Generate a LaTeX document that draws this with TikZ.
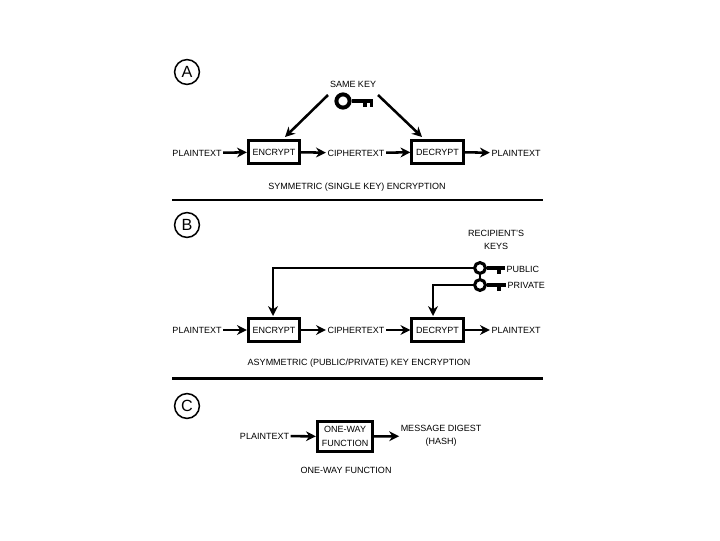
\documentclass[tikz,border=0pt]{standalone}
\usepackage{fontspec}
\setmainfont{Liberation Sans}
\usetikzlibrary{arrows.meta}
\begin{document}
\begin{tikzpicture}[
  x=0.025cm, y=-0.025cm,
  lbl/.style={inner sep=1pt, align=center, font=\fontsize{6.4}{9.6}\selectfont},
  box/.style={draw, line width=1.9pt, minimum width=1.29cm, minimum height=0.59cm, inner sep=0pt, align=center, font=\fontsize{6.4}{9.6}\selectfont},
  tag/.style={draw, circle, line width=1.1pt, minimum size=0.62cm, inner sep=0pt, font=\fontsize{11.5}{12}\selectfont},
  ring/.style={draw, circle, line width=2.2pt, inner sep=0pt},
  arr/.style={-{Stealth[length=7pt,width=7pt]}, line width=1.8pt},
  keyline/.style={line width=2.3pt}
]
\useasboundingbox (0,0) rectangle (720,540);
% part A
\node[tag] (tagA) at (187,72) {A};
\node[lbl] (same) at (353,84) {SAME KEY};
\node[ring, minimum size=0.33cm, line width=2.8pt] (ringA) at (343,101) {};
\coordinate (tipA) at (373,101);
\draw[keyline, line width=2.8pt] (ringA) -- (tipA);
\draw[line width=2.2pt] (365,101) -- (365,107) (371.5,101) -- (371.5,107);
\coordinate (leftA) at (328,95);
\coordinate (rightA) at (378,95);
\coordinate (inEncA) at (285,137);
\coordinate (inDecA) at (422,137);
\node[lbl] (plainA) at (197,153) {PLAINTEXT};
\node[box] (encA) at (274,152) {ENCRYPT};
\node[lbl] (ciphA) at (356,153) {CIPHERTEXT};
\node[box] (decA) at (437.5,152) {DECRYPT};
\node[lbl] (outA) at (516,153) {PLAINTEXT};
\node[lbl] (capA) at (357,187) {SYMMETRIC (SINGLE KEY) ENCRYPTION};
\coordinate (lineA1) at (172,200);
\coordinate (lineA2) at (543,200);
\draw[line width=1.5pt] (lineA1) -- (lineA2);
\draw[arr] (leftA) -- (inEncA);
\draw[arr] (rightA) -- (inDecA);
\draw[arr] (plainA) -- (encA);
\draw[arr] (encA) -- (ciphA);
\draw[arr] (ciphA) -- (decA);
\draw[arr] (decA) -- (outA);
% part B
\node[tag] (tagB) at (187,225) {B};
\node[lbl] (recip) at (496,240) {RECIPIENT'S\\KEYS};
\node[ring, minimum size=0.27cm] (ringPub) at (480,268) {};
\node[ring, minimum size=0.27cm] (ringPri) at (480,285) {};
\node[lbl, anchor=west] (pub) at (505,269) {PUBLIC};
\node[lbl, anchor=west] (pri) at (506,285) {PRIVATE};
\draw[keyline] (ringPub) -- (pub.west |- ringPub);
\draw[keyline] (ringPri) -- (pri.west |- ringPri);
\draw[line width=2.2pt] (499,268) -- (499,274) (499,285) -- (499,291);
\draw[line width=1.8pt] (ringPub) -- (ringPri);
\coordinate (inEncB) at (273,316);
\coordinate (inDecB) at (433,316);
\node[lbl] (plainB) at (197,330) {PLAINTEXT};
\node[box] (encB) at (274,330) {ENCRYPT};
\node[lbl] (ciphB) at (356,330) {CIPHERTEXT};
\node[box] (decB) at (437.5,330) {DECRYPT};
\node[lbl] (outB) at (516,330) {PLAINTEXT};
\node[lbl] (capB) at (359,363) {ASYMMETRIC (PUBLIC/PRIVATE) KEY ENCRYPTION};
\coordinate (lineB1) at (172,378.5);
\coordinate (lineB2) at (543,378.5);
\draw[line width=2.2pt] (lineB1) -- (lineB2);
\draw[arr] (ringPub) -| (inEncB);
\draw[arr] (ringPri) -| (inDecB);
\draw[arr] (plainB) -- (encB);
\draw[arr] (encB) -- (ciphB);
\draw[arr] (ciphB) -- (decB);
\draw[arr] (decB) -- (outB);
% part C
\node[tag] (tagC) at (187,406) {C};
\node[lbl] (plainC) at (264.5,436) {PLAINTEXT};
\node[box, minimum width=1.39cm, minimum height=0.76cm] (func) at (345,436.5) {ONE-WAY\\FUNCTION};
\node[lbl] (digest) at (441,436) {MESSAGE DIGEST\\(HASH)};
\node[lbl] (capC) at (346,470) {ONE-WAY FUNCTION};
\draw[arr] (plainC) -- (func);
\draw[arr] (func) -- (digest);
\end{tikzpicture}
\end{document}
